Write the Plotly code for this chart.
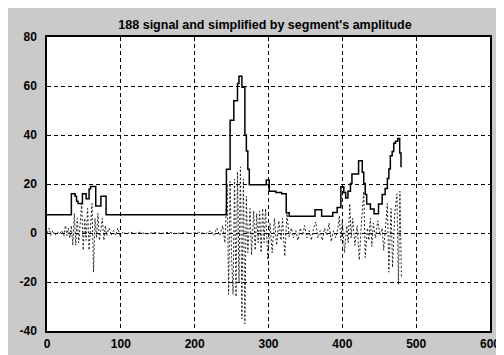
import plotly.graph_objects as go

title_text = "188 signal and simplified by segment's amplitude"

# simplified (step) signal: segment start positions and amplitudes
seg_x = [0, 33, 38, 40, 42, 48, 53, 57, 59, 66, 73, 80,
         243, 248, 253, 258, 260, 264, 268, 270, 272, 274, 297, 301, 310, 318, 324, 328,
         363, 372, 387, 393, 398, 402, 404.5, 407.6, 411, 413, 422, 427, 429, 431, 433,
         438, 443, 449, 454, 458, 461, 463, 465, 467.5, 469.6, 472, 475, 477.7, 479.5]
seg_y = [7.5, 16, 15, 13, 12, 16, 14, 18, 19, 11, 15, 7.5,
         26, 46, 54, 61, 64, 59.5, 40, 33.5, 26, 19.7, 21.6, 17, 16.5, 16, 8.3, 6.8,
         9.5, 6.8, 8.4, 10.4, 18.9, 16.5, 14.3, 17, 20.2, 24.1, 29.5, 24.8, 20.2, 15.7, 11.8,
         9.8, 7.9, 11.8, 15.7, 18.2, 22.2, 26.1, 31.5, 33.3, 36.6, 37.5, 38.6, 32.7, 26.8]

# original signal (vertices)
sig_x = [0, 3, 5, 8, 11, 14, 17, 20, 23, 25, 27, 29, 31, 33, 35, 37, 39, 41, 43, 45, 47, 49,
         51, 53, 55, 57, 59, 61, 63, 65, 67, 69, 71, 73, 75, 77, 79, 81, 84, 87, 90, 93, 96, 99,
         103, 108, 113, 118, 125, 135, 145, 155, 165, 175, 185, 195, 205, 215, 222, 226, 230,
         234, 238, 241, 244, 246, 248, 250, 252, 254, 256, 258, 260, 262, 264, 266, 268, 270,
         272, 275, 277, 280, 282, 284, 286, 288, 290, 292, 294, 296, 299, 302, 305, 308, 311,
         314, 317, 319, 322, 325, 328, 331, 334, 337, 340, 343, 346, 349, 352, 355, 358, 361,
         364, 367, 370, 373, 376, 379, 382, 385, 388, 391, 394, 396, 398, 400, 403, 406, 408,
         410, 412, 414, 417, 420, 423, 426, 429, 431, 434, 436, 438, 440, 442, 445, 448, 451,
         454, 456, 458, 461, 463, 466, 468, 471, 474, 476, 478, 480]
sig_y = [0, 2, -1, 1, -1, 0.5, -0.5, 1, -1, 3, -1, 2, -2, 3, -5, 8, -5, 6, -4, 5, 12, -7,
         6, -3, 10, -7, 4, 12, -16, 6, -2, 8, -3, 2, 6, -3, 3, -1, 2, -1, 1, -1, 2, -1,
         0.5, -0.5, 0.5, -0.3, 0.3, -0.3, 0.2, -0.2, 0.3, -0.3, 0.2, -0.2, 0.3, -0.3, 1, -1, 2,
         -1, 3, -4, 20, -25, 21, -10, -25, 22, -26, 25, -20, 27, -35, 22, -37, 15,
         -8, 10, -9, 9, -7, 8, -4, 9, -8, 10, -4, 10, -11, 4, -8, 6, -5,
         5, -3, 6, -9.5, 8, -1.5, 2, -2, 1, -3, 2, -1, 3, -2, 1, -3, 2,
         4.5, -2, 1, -3, 2, -1, 4, -3.5, 1, -2, 2, 7, -3, 5, -8, 3, -4,
         12, -2, 6, -5, 3, -11, 5, 17, -10, 2, -3, 6, -5.5, 4, -2, 5, -1,
         2, -7, 1, 12, -16, 10, -14, 8, 16, -21, 17, -18]

x_ticks = [0, 100, 200, 300, 400, 500, 600]
y_ticks = [-40, -20, 0, 20, 40, 60, 80]

fig = go.Figure()
fig.add_trace(go.Scatter(x=sig_x, y=sig_y, mode="lines",
                         line=dict(color="#222222", width=1, dash="2px,2px"),
                         showlegend=False, hoverinfo="skip"))
fig.add_trace(go.Scatter(x=seg_x, y=seg_y, mode="lines", line_shape="hv",
                         line=dict(color="black", width=1.5),
                         showlegend=False, hoverinfo="skip"))

axis_common = dict(showline=True, linecolor="black", linewidth=1.5, mirror=True,
                   showgrid=True, gridcolor="black", gridwidth=1, griddash="4px,3px",
                   zeroline=False, ticks="",
                   tickfont=dict(family="Liberation Sans, Arial", size=12, color="black",
                                 weight="bold"))

fig.update_xaxes(range=[0, 600], tickvals=x_ticks, ticktext=[str(v) for v in x_ticks],
                 ticklabelstandoff=1, **axis_common)
fig.update_yaxes(range=[-40, 80], tickvals=y_ticks, ticktext=[str(v) for v in y_ticks],
                 ticklabelstandoff=6, **axis_common)

fig.update_layout(
    width=504, height=355,
    margin=dict(l=38, r=21, t=29, b=21),
    paper_bgcolor="#cacaca",
    plot_bgcolor="white",
    title=dict(text=title_text, x=0.51, xanchor="center", y=0.952, yanchor="middle",
               font=dict(family="Liberation Sans, Arial", size=12.5, color="black", weight="bold")),
)

fig.write_html("out.html")
